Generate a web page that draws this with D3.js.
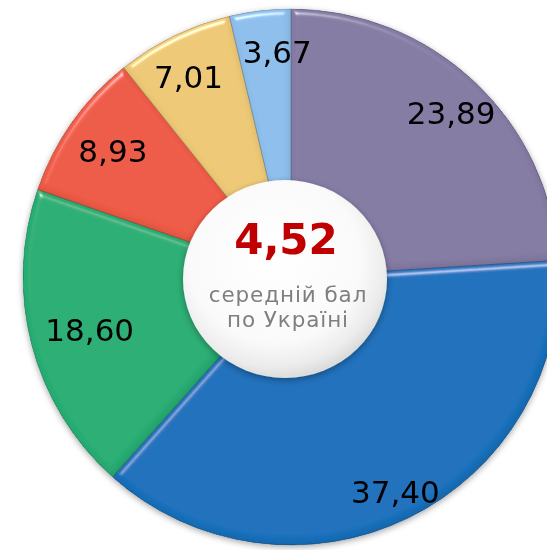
<!DOCTYPE html>
<html><head><meta charset="utf-8">
<script src="https://cdn.jsdelivr.net/npm/d3@7"></script>
<style>html,body{margin:0;padding:0;background:#fff;overflow:hidden}svg{display:block}</style>
</head><body>
<svg id="c" width="547" height="550"></svg>
<script>
const labels = ["23,89","37,40","18,60","8,93","7,01","3,67"];
const values = [23.89, 37.40, 18.60, 8.93, 7.01, 3.67];
const colors = ["#857BA4","#1B71BC","#2AAE74","#EE5B46","#EDC977","#8EBFEC"];
const centerValue = "4,52";
const centerLines = ["середній бал","по Україні"];

const W = 547, H = 550, cx = 291, cy = 277, R = 268;
// best-fit label radii and angle shifts (layout, per slice)
const labelRadius = [229, 239, 208, 218, 225, 226];
const labelTurn = [0.02, 0, 0, 0, -0.02, 0.055];
const FONT = "DejaVu Sans, Verdana, sans-serif";
const svg = d3.select("#c");
const defs = svg.append("defs");

const bevel = defs.append("filter").attr("id","bevel").attr("x","-10%").attr("y","-10%").attr("width","120%").attr("height","120%");
bevel.append("feGaussianBlur").attr("in","SourceAlpha").attr("stdDeviation",3).attr("result","blur");
const spec = bevel.append("feSpecularLighting").attr("in","blur").attr("surfaceScale",5)
  .attr("specularConstant",0.9).attr("specularExponent",40).attr("lighting-color","#ffffff").attr("result","spec");
spec.append("feDistantLight").attr("azimuth",250).attr("elevation",35);
bevel.append("feComposite").attr("in","spec").attr("in2","SourceAlpha").attr("operator","in").attr("result","specIn");
bevel.append("feOffset").attr("in","blur").attr("dx",-2).attr("dy",-3).attr("result","off");
bevel.append("feComposite").attr("in","SourceAlpha").attr("in2","off").attr("operator","out").attr("result","edge");
bevel.append("feFlood").attr("flood-color","#000").attr("flood-opacity",0.22).attr("result","dark");
bevel.append("feComposite").attr("in","dark").attr("in2","edge").attr("operator","in").attr("result","darkEdge");
bevel.append("feMerge").attr("result","base").call(m => {
  m.append("feMergeNode").attr("in","SourceGraphic");
  m.append("feMergeNode").attr("in","darkEdge");
});
bevel.append("feComposite").attr("in","base").attr("in2","specIn").attr("operator","arithmetic")
  .attr("k1",0).attr("k2",1).attr("k3",0.6).attr("k4",0).attr("result","lit");
bevel.append("feComposite").attr("in","lit").attr("in2","SourceAlpha").attr("operator","in");

const shadow = defs.append("filter").attr("id","shadow").attr("x","-20%").attr("y","-20%").attr("width","140%").attr("height","140%");
shadow.append("feDropShadow").attr("dx",0).attr("dy",2).attr("stdDeviation",3).attr("flood-color","#000").attr("flood-opacity",0.35);

const rg = defs.append("radialGradient").attr("id","disc").attr("cx","45%").attr("cy","40%").attr("r","60%");
rg.append("stop").attr("offset","0%").attr("stop-color","#ffffff");
rg.append("stop").attr("offset","70%").attr("stop-color","#fafafa");
rg.append("stop").attr("offset","90%").attr("stop-color","#ececec");
rg.append("stop").attr("offset","100%").attr("stop-color","#dcdcdc");

const pie = d3.pie().sort(null).value(d => d).startAngle(0).endAngle(2*Math.PI);
const arcs = pie(values);
const arc = d3.arc().innerRadius(0).outerRadius(R);

const g = svg.append("g").attr("transform",`translate(${cx},${cy})`);
const sh = g.append("g").attr("filter","url(#shadow)");
sh.selectAll("path").data(arcs).join("path")
  .attr("d", arc).attr("fill", (d,i) => colors[i])
  .attr("stroke", (d,i) => d3.color(colors[i]).darker(0.9)).attr("stroke-width",0.8)
  .attr("filter","url(#bevel)");

g.selectAll("text.lbl").data(arcs).join("text").attr("class","lbl")
  .attr("transform", (d,i) => {
    const a = (d.startAngle + d.endAngle) / 2 + labelTurn[i], r = labelRadius[i];
    return `translate(${r * Math.sin(a)},${-r * Math.cos(a)})`;
  })
  .attr("text-anchor","middle").attr("dy","0.36em")
  .attr("font-family",FONT).attr("font-size",31).attr("fill","#000")
  .text((d,i) => labels[i]);

const disc = svg.append("g").attr("transform","translate(285,279)");
disc.append("ellipse").attr("rx",102).attr("ry",99).attr("fill","url(#disc)").attr("filter","url(#shadow)");
disc.append("text").attr("x",1).attr("y",-25).attr("text-anchor","middle")
  .attr("font-family",FONT).attr("font-weight","bold").attr("font-size",42)
  .attr("fill","#C00000").text(centerValue);
disc.selectAll("text.sub").data(centerLines).join("text").attr("class","sub")
  .attr("x",3).attr("y",(d,i) => 23 + i*25).attr("text-anchor","middle")
  .attr("font-family",FONT).attr("font-size",21.5).attr("letter-spacing",0.9).attr("fill","#7f7f7f")
  .text(d => d);
</script>
</body></html>
